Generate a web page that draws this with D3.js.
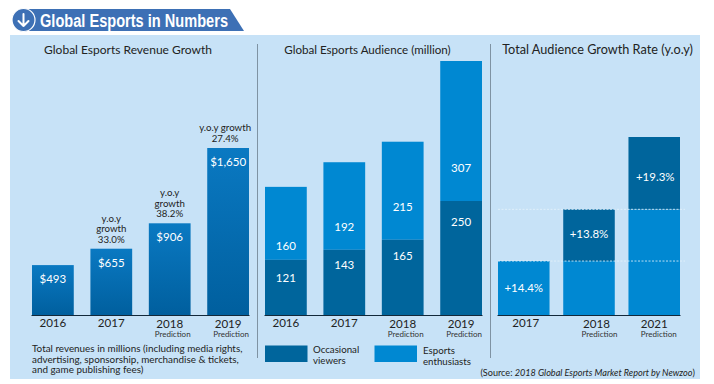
<!DOCTYPE html>
<html lang="en">
<head>
<meta charset="UTF-8">
<title>Global Esports in Numbers</title>
<script src="https://d3js.org/d3.v7.min.js"></script>
<style>
    html, body { margin: 0; background: #fff; overflow: hidden; }
    svg { display: block; }
    text { font-family: Lato, "Noto Sans", sans-serif; fill: #222; }
    .panel-title { text-anchor: middle; }
    .year { font-size: 11.6px; text-anchor: middle; }
    .pred { font-size: 8px; text-anchor: middle; fill: #333; }
    .val { font-size: 11.5px; text-anchor: middle; fill: #fff; }
    .note { font-size: 9.9px; }
    .legend-text { font-size: 9.7px; }
    .growth { font-size: 9.7px; text-anchor: middle; }
</style>
</head>
<body>
<svg id="chart" width="714" height="384"></svg>
<script>
    // Revenue
    const revenueYears = ["2016", "2017", "2018", "2019"];
    const revenueValues = [493, 655, 906, 1650];
    const revenueLabels = ["$493", "$655", "$906", "$1,650"];
    const revenueGrowth = [[], ["y.o.y", "growth", "33.0%"], ["y.o.y", "growth", "38.2%"], ["y.o.y growth", "27.4%"]];

    // Audience
    const audienceYears = ["2016", "2017", "2018", "2019"];
    const occasional = [121, 143, 165, 250];
    const enthusiasts = [160, 192, 215, 307];

    // Growth rate
    const rateYears = ["2017", "2018", "2021"];
    const rateBase = [14.4, 14.4, 28.2];
    const rateAdded = [0, 13.8, 19.3];
    const rateLabels = ["+14.4%", "+13.8%", "+19.3%"];
    const rateLines = [14.4, 28.2];

    const predicted = new Set(["2018", "2019", "2021"]);
    const DARK = "#00659c", LIGHT = "#0088d2";
    const baseY = 315;

    const svg = d3.select("#chart");

    const defs = svg.append("defs");
    const grad = defs.append("linearGradient").attr("id", "revGrad")
        .attr("x1", 0).attr("x2", 0).attr("y1", 0).attr("y2", 1)
        .attr("gradientUnits", "objectBoundingBox");
    grad.append("stop").attr("offset", 0).attr("stop-color", "#0a79c2");
    grad.append("stop").attr("offset", 1).attr("stop-color", "#005f9e");

    // background panel
    svg.append("rect").attr("x", 10).attr("y", 35).attr("width", 690).attr("height", 344).attr("fill", "#c7e2f7");

    // header
    svg.append("path").attr("d", "M24 9H230L244 31H24Z").attr("fill", "#3d70b5");
    svg.append("circle").attr("cx", 23.5).attr("cy", 20).attr("r", 11.5).attr("fill", "#3d70b5").attr("stroke", "#fff").attr("stroke-width", 1.2);
    svg.append("path").attr("d", "M23.5 14V26M18.5 21L23.5 26L28.5 21")
        .attr("fill", "none").attr("stroke", "#fff").attr("stroke-width", 2).attr("stroke-linecap", "round").attr("stroke-linejoin", "round");
    svg.append("text").attr("x", 40).attr("y", 26.5).text("Global Esports in Numbers")
        .style("font-family", "'Liberation Sans Narrow', 'Liberation Sans', sans-serif")
        .style("font-weight", "bold").style("font-size", "18px").style("fill", "#fff")
        .attr("textLength", 188).attr("lengthAdjust", "spacingAndGlyphs");

    // dividers
    svg.selectAll(".divider").data([257.5, 490.5]).enter().append("line")
        .attr("x1", d => d).attr("x2", d => d).attr("y1", 44).attr("y2", 358)
        .attr("stroke", "#7f93a3").attr("stroke-width", 1);

    // panel titles
    svg.selectAll(".panel-title")
        .data([["Global Esports Revenue Growth", 128, 12], ["Global Esports Audience (million)", 367.5, 11.6], ["Total Audience Growth Rate (y.o.y)", 597.5, 12.7]])
        .enter().append("text").attr("class", "panel-title")
        .attr("x", d => d[1]).attr("y", 54).style("font-size", d => d[2] + "px").text(d => d[0]);

    function bandScale(domain, left, right, pad) {
        return d3.scaleBand().domain(domain).range([left, right]).paddingInner(pad);
    }

    function drawYears(x, g, dy, predDy) {
        g.selectAll(".yr").data(x.domain()).enter().append("g").each(function (d) {
            const sel = d3.select(this);
            const cx = x(d) + x.bandwidth() / 2 + (dy ? dy(d) : 0);
            const pred = predicted.has(d);
            sel.append("text").attr("class", "year").attr("x", cx).attr("y", pred ? 327.5 : 327).text(d);
            if (pred) sel.append("text").attr("class", "pred").attr("x", cx + (predDy ? predDy(d) : 3)).attr("y", 337).text("Prediction");
        });
        g.append("line").attr("x1", x.range()[0] - 0.5).attr("x2", x.range()[1] + 0.5)
            .attr("y1", baseY + 0.5).attr("y2", baseY + 0.5).attr("stroke", "#12283a").attr("stroke-width", 1);
    }

    // Panel 1: revenue
    const x1 = bandScale(revenueYears, 32, 249, 0.285);
    const y1 = d3.scaleLinear().domain([0, 1650]).range([baseY, 148]);
    const g1 = svg.append("g");
    g1.selectAll("rect").data(revenueYears).enter().append("rect")
        .attr("x", d => x1(d)).attr("width", x1.bandwidth())
        .attr("y", (d, i) => y1(revenueValues[i])).attr("height", (d, i) => baseY - y1(revenueValues[i]))
        .attr("fill", "url(#revGrad)");
    g1.selectAll(".val").data(revenueYears).enter().append("text").attr("class", "val")
        .attr("x", d => x1(d) + x1.bandwidth() / 2).attr("y", (d, i) => y1(revenueValues[i]) + 18)
        .text((d, i) => revenueLabels[i]);
    revenueGrowth.forEach((lines, i) => {
        const cx = x1(revenueYears[i]) + x1.bandwidth() / 2 - (i === 3 ? 3 : 0);
        lines.forEach((t, j) => {
            g1.append("text").attr("class", "growth").attr("x", cx)
                .attr("y", y1(revenueValues[i]) - 6 - (lines.length - 1 - j) * 10.6).text(t);
        });
    });
    drawYears(x1, g1);

    // Panel 2: audience
    const x2 = bandScale(audienceYears, 265, 482, 0.285);
    const y2 = d3.scaleLinear().domain([0, 557]).range([baseY, 61]);
    const g2 = svg.append("g");
    const occLabelDy = [22, 19, 20, 25];
    const entLabelDy = [-10, -19, -29, -29];
    audienceYears.forEach((yr, i) => {
        const a = occasional[i], b = enthusiasts[i];
        g2.append("rect").attr("x", x2(yr)).attr("width", x2.bandwidth())
            .attr("y", y2(a + b)).attr("height", y2(a) - y2(a + b)).attr("fill", LIGHT);
        g2.append("rect").attr("x", x2(yr)).attr("width", x2.bandwidth())
            .attr("y", y2(a)).attr("height", baseY - y2(a)).attr("fill", DARK);
        const cx = x2(yr) + x2.bandwidth() / 2;
        g2.append("text").attr("class", "val").attr("x", cx).attr("y", y2(a) + occLabelDy[i]).text(a);
        g2.append("text").attr("class", "val").attr("x", cx).attr("y", y2(a) + entLabelDy[i]).text(b);
    });
    drawYears(x2, g2);

    // Panel 3: growth rate
    const x3 = bandScale(rateYears, 498, 680, 0.21);
    const y3 = d3.scaleLinear().domain([0, 47.5]).range([baseY, 137]);
    const g3 = svg.append("g");
    const rateLabelDy = [31, 29, 44];
    rateYears.forEach((yr, i) => {
        const cx = x3(yr) + x3.bandwidth() / 2;
        g3.append("rect").attr("x", x3(yr)).attr("width", x3.bandwidth())
            .attr("y", y3(rateBase[i])).attr("height", baseY - y3(rateBase[i])).attr("fill", LIGHT);
        let top = y3(rateBase[i]);
        if (rateAdded[i] > 0) {
            top = y3(rateBase[i] + rateAdded[i]);
            g3.append("rect").attr("x", x3(yr)).attr("width", x3.bandwidth())
                .attr("y", top).attr("height", y3(rateBase[i]) - top).attr("fill", DARK);
        }
        g3.append("text").attr("class", "val").attr("x", cx + (i === 2 ? 1 : 0)).attr("y", top + rateLabelDy[i]).text(rateLabels[i]);
    });
    g3.selectAll(".rate-line").data(rateLines).enter().append("line")
        .attr("x1", 498).attr("x2", 685).attr("y1", d => y3(d)).attr("y2", d => y3(d))
        .attr("stroke", "#e6f2fb").attr("stroke-width", 0.8).attr("stroke-dasharray", "2 1.5");
    drawYears(x3, g3, d => (d === "2017" ? 2 : d === "2018" ? 7.5 : 0), d => (d === "2021" ? 4.5 : 3));

    // legend
    const legend = [[265, DARK, ["Occasional", "viewers"], 313, 353, 10.6], [374.5, LIGHT, ["Esports", "enthusiasts"], 423, 354, 11]];
    legend.forEach(d => {
        svg.append("rect").attr("x", d[0]).attr("y", 345.5).attr("width", 42.5).attr("height", 16.5).attr("fill", d[1]);
        d[2].forEach((t, j) => svg.append("text").attr("class", "legend-text").attr("x", d[3])
            .attr("y", d[4] + j * d[5]).text(t));
    });

    // notes
    const noteLines = ["Total revenues in millions (including media rights,", "advertising, sponsorship, merchandise & tickets,", "and game publishing fees)"];
    svg.selectAll(".note-line").data(noteLines).enter().append("text").attr("class", "note")
        .attr("x", 32).attr("y", (d, i) => 352 + i * 10.7).text(d => d);

    const src = svg.append("text").attr("x", 695).attr("y", 375.5).attr("text-anchor", "end").style("font-size", "9.1px");
    src.append("tspan").text("(Source: ");
    src.append("tspan").style("font-style", "italic").text("2018 Global Esports Market Report by Newzoo");
    src.append("tspan").text(")");
</script>
</body>
</html>
